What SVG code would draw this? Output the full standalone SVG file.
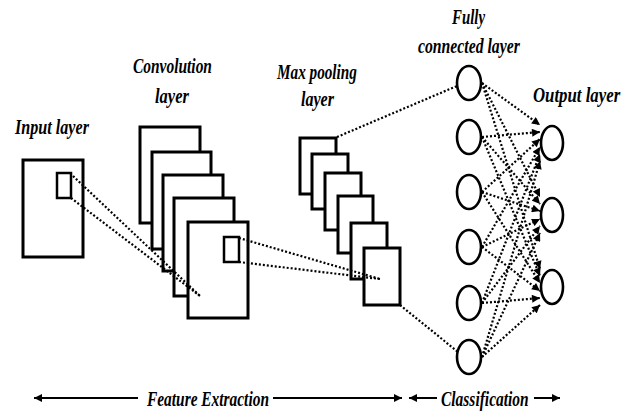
<svg xmlns="http://www.w3.org/2000/svg" width="630" height="411" viewBox="0 0 630 411">
  <style>
    .box { fill: #fff; stroke: #000; stroke-width: 3; }
    .win { fill: none; stroke: #000; stroke-width: 2.5; }
    .node { fill: #fff; stroke: #000; stroke-width: 2.6; }
    .dot { fill: none; stroke: #000; stroke-width: 2.2; stroke-dasharray: 2 2; }
    .solid { fill: none; stroke: #000; stroke-width: 2; }
    .lbl { font-family: "Liberation Serif", "Times New Roman", serif; font-style: italic; font-weight: bold; font-size: 21px; fill: #000; }
  </style>
  <defs>
    <marker id="arrow" viewBox="0 0 10 10" refX="10" refY="5" markerWidth="9" markerHeight="8" markerUnits="userSpaceOnUse" orient="auto">
      <path d="M0,0 L10,5 L0,10 z" fill="#000"/>
    </marker>
    <marker id="arrowStart" viewBox="0 0 10 10" refX="0" refY="5" markerWidth="9" markerHeight="8" markerUnits="userSpaceOnUse" orient="auto">
      <path d="M10,0 L0,5 L10,10 z" fill="#000"/>
    </marker>
  </defs>

  <!-- Input layer -->
  <g id="input-layer">
    <rect class="box" x="23" y="160" width="60" height="97"/>
    <rect class="win" x="57" y="173" width="14" height="25"/>
    <text class="lbl" transform="translate(15 134) scale(0.768 1)">Input layer</text>
  </g>

  <!-- Convolution layer: stack of feature maps -->
  <g id="convolution-layer">
    <rect class="box" x="140" y="127" width="60" height="96"/>
    <rect class="box" x="152" y="152" width="59" height="97"/>
    <rect class="box" x="163" y="175" width="60" height="96"/>
    <rect class="box" x="174" y="198" width="60" height="98"/>
    <rect class="box" x="188" y="222" width="60" height="96"/>
    <rect class="win" x="224" y="237" width="15" height="25"/>
    <text class="lbl" transform="translate(133 73) scale(0.736 1)">Convolution</text>
    <text class="lbl" transform="translate(155 103) scale(0.787 1)">layer</text>
  </g>

  <!-- Max pooling layer -->
  <g id="max-pooling-layer">
    <rect class="box" x="300" y="138" width="36" height="56"/>
    <rect class="box" x="312" y="154" width="36" height="55"/>
    <rect class="box" x="325" y="173" width="36" height="57"/>
    <rect class="box" x="338" y="196" width="35" height="57"/>
    <rect class="box" x="351" y="223" width="36" height="56"/>
    <rect class="box" x="364" y="248" width="36" height="57"/>
    <text class="lbl" transform="translate(277 79) scale(0.725 1)">Max pooling</text>
    <text class="lbl" transform="translate(301 106) scale(0.765 1)">layer</text>
  </g>

  <!-- Fully connected layer -->
  <g id="fully-connected-layer">
    <ellipse class="node" cx="469" cy="83" rx="12" ry="17"/>
    <ellipse class="node" cx="469" cy="137" rx="12" ry="17"/>
    <ellipse class="node" cx="469" cy="192" rx="12" ry="17"/>
    <ellipse class="node" cx="469" cy="247" rx="12" ry="17"/>
    <ellipse class="node" cx="469" cy="303" rx="12" ry="17"/>
    <ellipse class="node" cx="469" cy="357" rx="12" ry="17"/>
    <text class="lbl" transform="translate(452 24) scale(0.707 1)">Fully</text>
    <text class="lbl" transform="translate(418 53) scale(0.75 1)">connected layer</text>
  </g>

  <!-- Output layer -->
  <g id="output-layer">
    <ellipse class="node" cx="552" cy="143" rx="11" ry="17"/>
    <ellipse class="node" cx="552" cy="215" rx="11" ry="17"/>
    <ellipse class="node" cx="552" cy="287" rx="11" ry="17"/>
    <text class="lbl" transform="translate(533 102) scale(0.8 1)">Output layer</text>
  </g>

  <!-- Connectors -->
  <g id="connectors">
    <!-- receptive field: input -> convolution -->
    <line class="dot" x1="73" y1="176" x2="200" y2="296"/>
    <line class="dot" x1="71" y1="198" x2="200" y2="296"/>
    <!-- pooling window: convolution -> max pooling -->
    <line class="dot" x1="239" y1="238" x2="380" y2="279"/>
    <line class="dot" x1="239" y1="262" x2="380" y2="279"/>
    <!-- flattening: max pooling -> fully connected -->
    <line class="dot" x1="337" y1="137" x2="457" y2="86"/>
    <line class="dot" x1="400" y1="305" x2="458" y2="352"/>

    <!-- fully connected -> output 1 -->
    <line class="dot" marker-end="url(#arrow)" x1="482" y1="83" x2="540" y2="125"/>
    <line class="dot" marker-end="url(#arrow)" x1="482" y1="137" x2="540" y2="132"/>
    <line class="dot" marker-end="url(#arrow)" x1="482" y1="192" x2="540" y2="139"/>
    <line class="dot" marker-end="url(#arrow)" x1="482" y1="247" x2="540" y2="147"/>
    <line class="dot" marker-end="url(#arrow)" x1="482" y1="303" x2="540" y2="154"/>
    <line class="dot" marker-end="url(#arrow)" x1="482" y1="357" x2="540" y2="161"/>
    <!-- fully connected -> output 2 -->
    <line class="dot" marker-end="url(#arrow)" x1="482" y1="83" x2="540" y2="197"/>
    <line class="dot" marker-end="url(#arrow)" x1="482" y1="137" x2="540" y2="204"/>
    <line class="dot" marker-end="url(#arrow)" x1="482" y1="192" x2="540" y2="211"/>
    <line class="dot" marker-end="url(#arrow)" x1="482" y1="247" x2="540" y2="219"/>
    <line class="dot" marker-end="url(#arrow)" x1="482" y1="303" x2="540" y2="226"/>
    <line class="dot" marker-end="url(#arrow)" x1="482" y1="357" x2="540" y2="233"/>
    <!-- fully connected -> output 3 -->
    <line class="dot" marker-end="url(#arrow)" x1="482" y1="83" x2="540" y2="269"/>
    <line class="dot" marker-end="url(#arrow)" x1="482" y1="137" x2="540" y2="276"/>
    <line class="dot" marker-end="url(#arrow)" x1="482" y1="192" x2="540" y2="283"/>
    <line class="dot" marker-end="url(#arrow)" x1="482" y1="247" x2="540" y2="291"/>
    <line class="dot" marker-end="url(#arrow)" x1="482" y1="303" x2="540" y2="298"/>
    <line class="dot" marker-end="url(#arrow)" x1="482" y1="357" x2="540" y2="305"/>
  </g>

  <!-- Stage spans along the bottom -->
  <g id="stage-feature-extraction">
    <line class="solid" marker-start="url(#arrowStart)" x1="34" y1="398" x2="138" y2="398"/>
    <line class="solid" marker-end="url(#arrow)" x1="273" y1="398" x2="402" y2="398"/>
    <text class="lbl" transform="translate(147 406) scale(0.734 1)">Feature Extraction</text>
  </g>
  <g id="stage-classification">
    <line class="solid" marker-start="url(#arrowStart)" x1="409" y1="398" x2="437" y2="398"/>
    <line class="solid" marker-end="url(#arrow)" x1="534" y1="398" x2="560" y2="398"/>
    <text class="lbl" transform="translate(441 406) scale(0.737 1)">Classification</text>
  </g>
</svg>
